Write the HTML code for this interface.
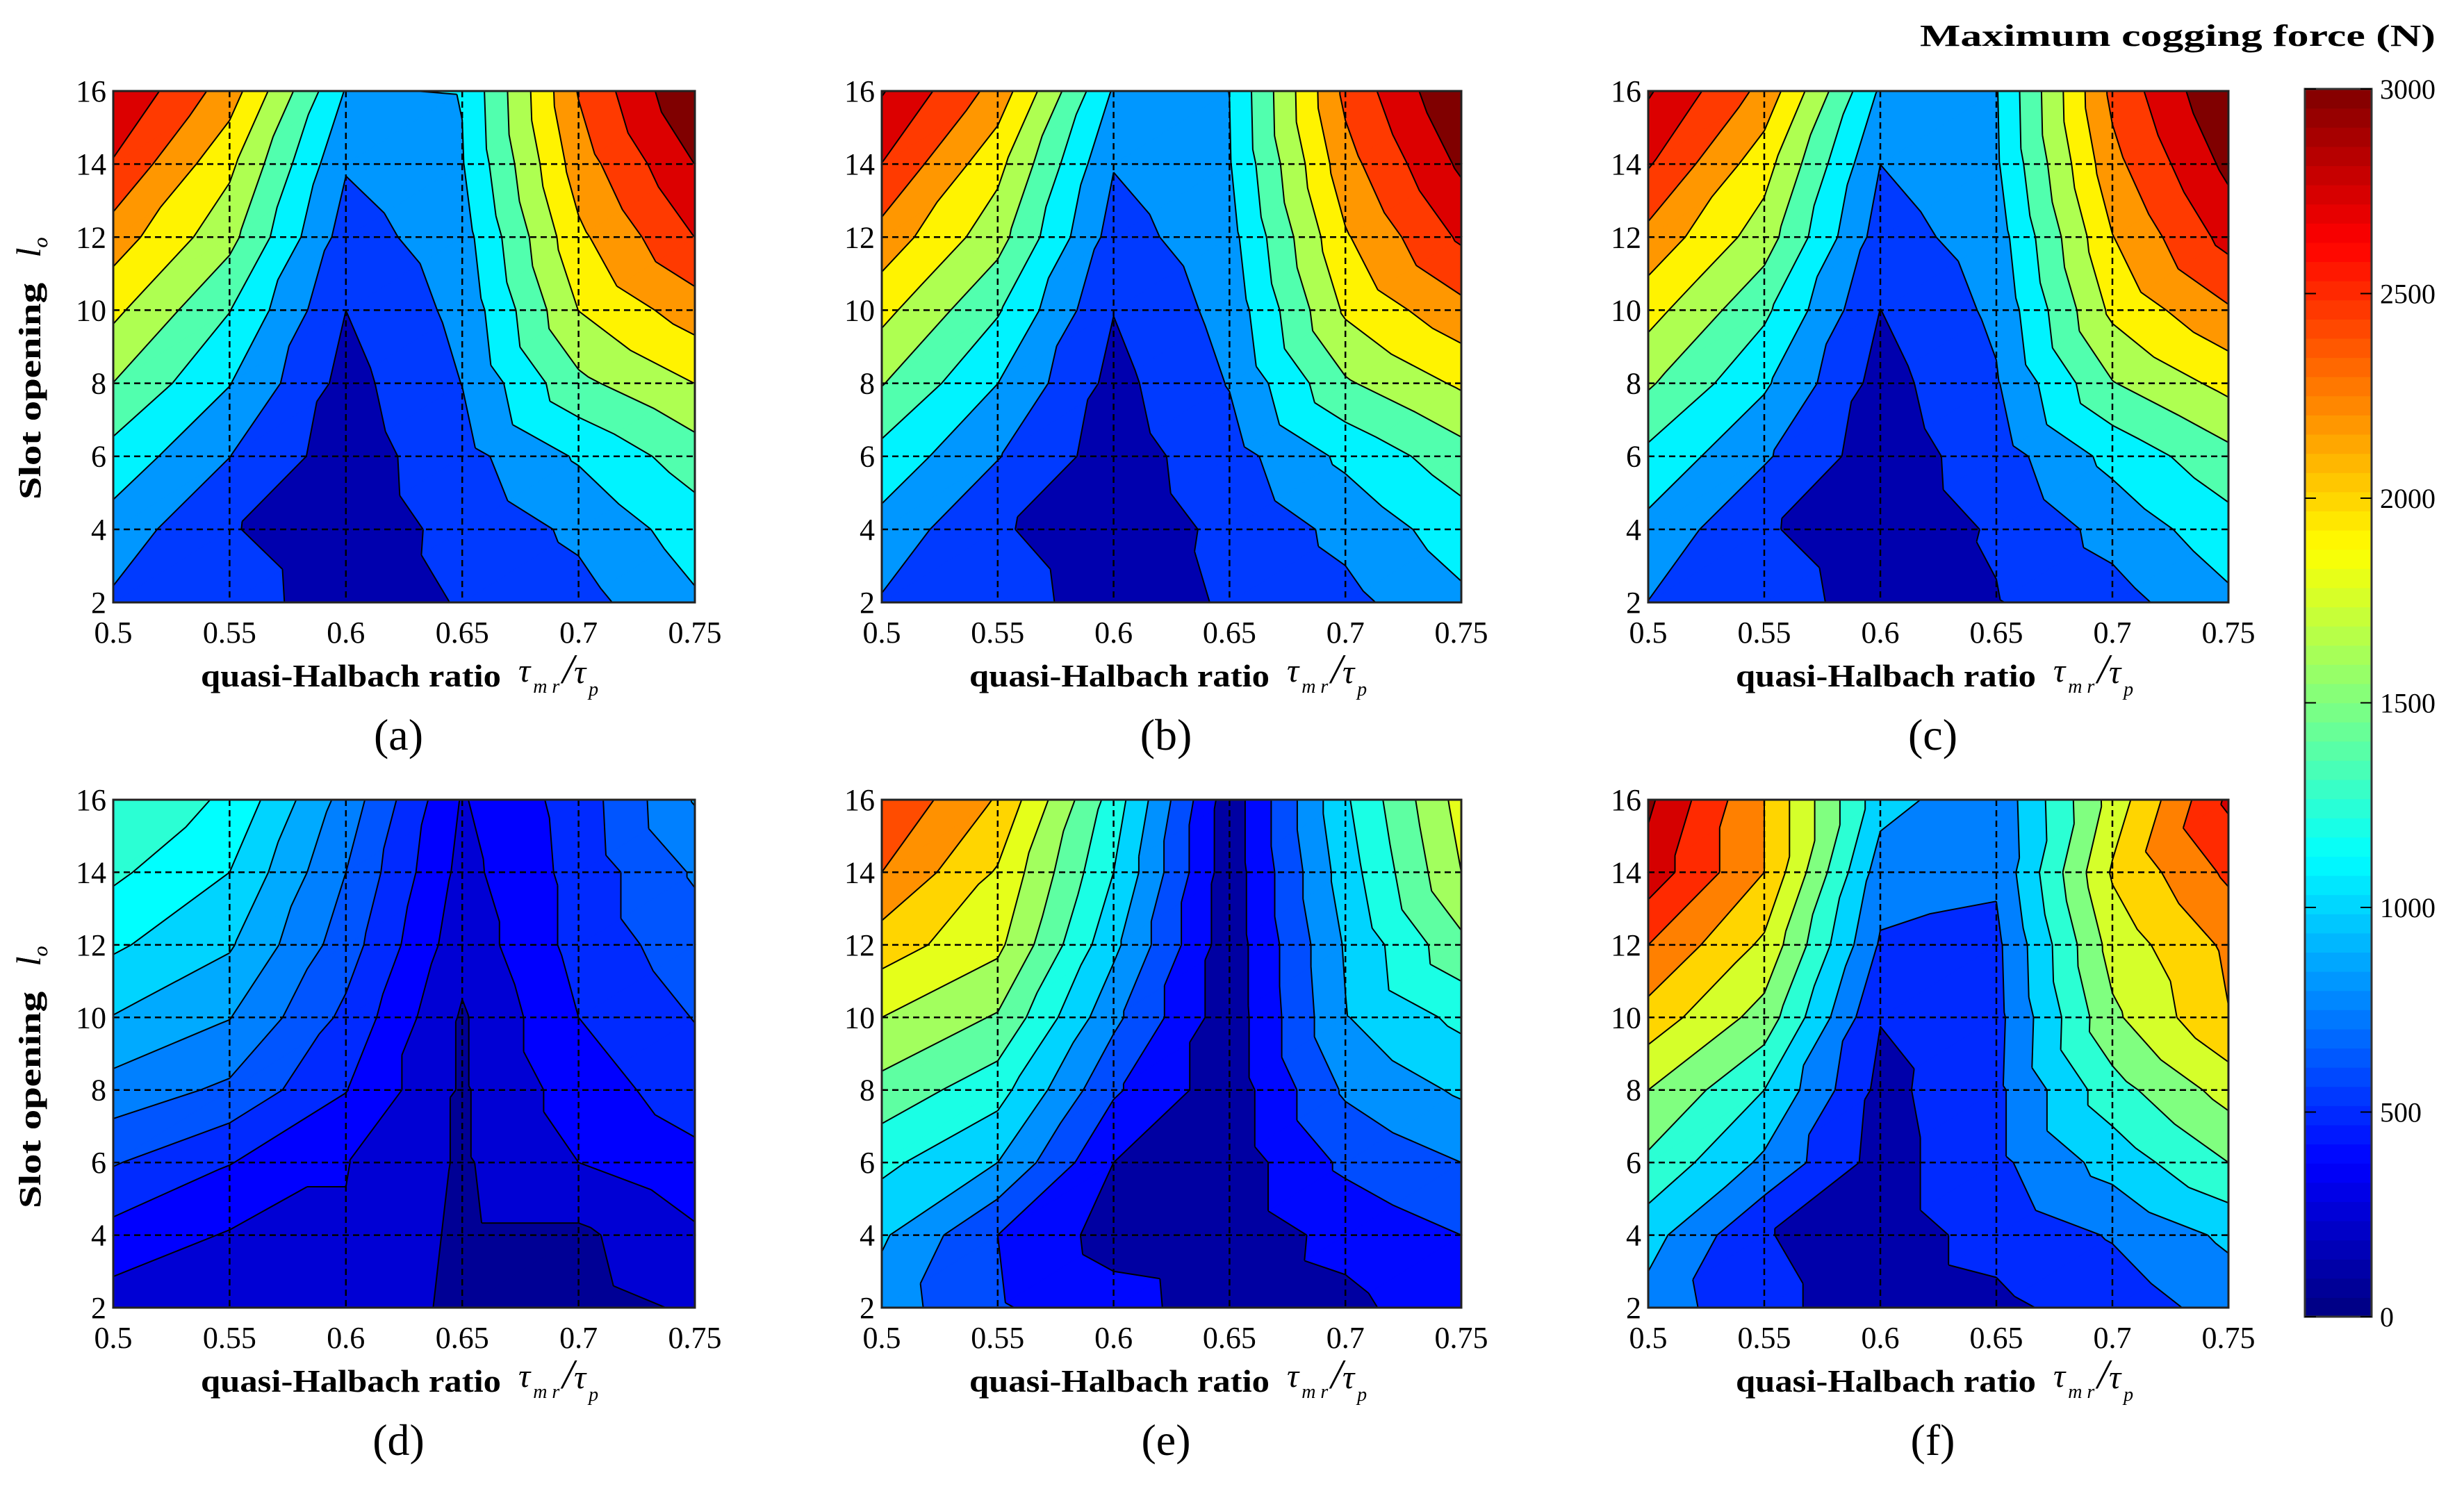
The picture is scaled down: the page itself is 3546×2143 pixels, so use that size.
<!DOCTYPE html>
<html><head><meta charset="utf-8"><style>
html,body{margin:0;padding:0;background:#fff;}
svg{display:block;}
text{font-family:"Liberation Serif",serif;fill:#000;}
</style></head><body>
<svg id="fig" width="3546" height="2143" viewBox="0 0 3546 2143" xmlns="http://www.w3.org/2000/svg">
<text x="3505" y="66" text-anchor="end" font-size="44" font-weight="bold" textLength="742" lengthAdjust="spacingAndGlyphs">Maximum cogging force (N)</text>
<g id="cbar"></g>
</svg>
<script>
const xVals = [0.5, 0.55, 0.6, 0.65, 0.7, 0.75];
const yVals = [2, 4, 6, 8, 10, 12, 14, 16];
const xTickLabels = ["0.5", "0.55", "0.6", "0.65", "0.7", "0.75"];
const yTickLabels = ["2", "4", "6", "8", "10", "12", "14", "16"];
const cbarTicks = [0, 500, 1000, 1500, 2000, 2500, 3000];
const panelLetters = ["(a)", "(b)", "(c)", "(d)", "(e)", "(f)"];
const levelSteps = [272.7, 272.7, 272.7, 125, 200, 250];
// rows y=2..16, cols x=0.5..0.75
const gridA = [
[500,400,130,290,450,780],[700,290,120,350,600,950],[990,550,130,450,850,1230],[1360,830,180,550,1300,1638],
[1700,1100,273,620,1640,2050],[2050,1450,420,700,1850,2457],[2430,1700,570,800,2050,2730],[2720,2050,800,830,2200,3000]];
const gridB = [
[520,400,140,300,470,760],[720,300,120,330,620,960],[1000,560,140,430,880,1250],[1380,820,190,560,1330,1680],
[1720,1120,280,640,1680,2100],[2080,1470,430,720,1880,2500],[2450,1720,560,800,2080,2780],[2750,2080,790,820,2250,3000]];
const gridC = [
[540,420,140,260,440,760],[740,300,110,300,640,980],[1020,580,120,410,900,1280],[1400,860,170,520,1350,1720],
[1740,1150,270,600,1700,2150],[2100,1500,420,680,1900,2550],[2480,1750,546,780,2100,2800],[2760,2100,780,800,2250,3000]];
const gridD = [
[190,190,230,90,80,140],[330,240,240,100,100,230],[510,380,255,110,250,340],[700,600,380,110,310,440],
[870,755,470,110,375,505],[1020,890,560,170,420,570],[1150,1000,625,210,420,640],[1200,1110,700,240,430,760]];
const gridE = [
[700,420,280,90,150,330],[830,400,120,80,260,400],[1050,800,200,80,440,600],[1330,1080,430,80,630,830],
[1600,1380,650,80,790,1050],[1900,1650,850,80,820,1350],[2200,1780,1000,80,900,1600],[2380,1980,1110,80,970,1680]];
const gridF = [
[650,300,150,200,350,600],[850,260,150,320,520,800],[1200,700,150,440,850,1250],[1500,1000,180,440,1150,1600],
[1900,1400,260,420,1450,1990],[2250,1700,470,440,1600,2050],[2650,2000,620,540,1780,2300],[2800,2000,850,560,1600,2550]];
const grids = [gridA, gridB, gridC, gridD, gridE, gridF];

const NS = "http://www.w3.org/2000/svg";
const svg = document.getElementById("fig");
const colX = [[163,1000],[1269,2103],[2372,3207]];
const rowY = [[131,867],[1151,1882]];
function mk(tag, attrs, parent){const e=document.createElementNS(NS,tag);for(const k in attrs)e.setAttribute(k,attrs[k]);(parent||svg).appendChild(e);return e;}
function jet(t){t=Math.max(0,Math.min(1,t));
 const r=Math.max(0,Math.min(1,Math.min(4*t-1.5,-4*t+4.5)));
 const g=Math.max(0,Math.min(1,Math.min(4*t-0.5,-4*t+3.5)));
 const b=Math.max(0,Math.min(1,Math.min(4*t+0.5,-4*t+2.5)));
 return "rgb("+Math.round(r*255)+","+Math.round(g*255)+","+Math.round(b*255)+")";}
function clip(poly, lev, keepAbove){const out=[];
 for(let i=0;i<poly.length;i++){const a=poly[i],b=poly[(i+1)%poly.length];
  const ia=keepAbove?a.v>=lev:a.v<=lev, ib=keepAbove?b.v>=lev:b.v<=lev;
  if(ia)out.push(a);
  if(ia!==ib){const t=(lev-a.v)/(b.v-a.v);out.push({x:a.x+t*(b.x-a.x),y:a.y+t*(b.y-a.y),v:lev});}}
 return out;}

for(let p=0;p<6;p++){
 const col=p%3,row=Math.floor(p/3);
 const X0=colX[col][0],X1=colX[col][1],Y0=rowY[row][0],Y1=rowY[row][1];
 const sx=x=>X0+(x-0.5)/(0.75-0.5)*(X1-X0);
 const sy=y=>Y1-(y-2)/(16-2)*(Y1-Y0);
 const grid=grids[p], step=levelSteps[p];
 const levels=[];for(let l=step;l<3000;l+=step)levels.push(l);
 const g=mk("g",{});
 
 
 const tris=[];
 for(let j=0;j<yVals.length-1;j++)for(let i=0;i<xVals.length-1;i++){
  const P=(ii,jj)=>({x:sx(xVals[ii]),y:sy(yVals[jj]),v:grid[jj][ii]+1e-3});
  const a=P(i,j),b=P(i+1,j),c=P(i+1,j+1),d=P(i,j+1);
  tris.push([a,b,c]);tris.push([a,c,d]);}
 const edges=[-1e9].concat(levels,[1e9]);
 const fg=mk("g",{},g);
 
 
 for(const tri of tris){
  for(let k=0;k<edges.length-1;k++){
   let poly=clip(tri,edges[k],true);if(poly.length<3)continue;
   poly=clip(poly,edges[k+1],false);if(poly.length<3)continue;
   const up=k<levels.length?levels[k]:3000;
   const cv=k===0?step*0.5:up;
   const col2=jet(cv/3000);
   mk("polygon",{points:poly.map(q=>q.x.toFixed(1)+","+q.y.toFixed(1)).join(" "),fill:col2,stroke:col2,"stroke-width":"1.2"},fg);}}
 let dstr="";
 for(const tri of tris)for(const L of levels){
  const pts=[];
  for(let e=0;e<3;e++){const a=tri[e],b=tri[(e+1)%3];
   if((a.v-L)*(b.v-L)<0){const t=(L-a.v)/(b.v-a.v);pts.push([a.x+t*(b.x-a.x),a.y+t*(b.y-a.y)]);}}
  if(pts.length===2)dstr+="M"+pts[0][0].toFixed(1)+","+pts[0][1].toFixed(1)+"L"+pts[1][0].toFixed(1)+","+pts[1][1].toFixed(1);}
 const cl=mk("path",{d:dstr,fill:"none",stroke:"#000","stroke-width":"2"},g);
 
 
 for(let i=1;i<xVals.length-1;i++){
  const ln=mk("line",{x1:sx(xVals[i]),x2:sx(xVals[i]),y1:Y0,y2:Y1,stroke:"#000","stroke-width":"2.5","stroke-dasharray":"9,6"},g);
  
  }
 for(let j=1;j<yVals.length-1;j++){
  const ln=mk("line",{x1:X0,x2:X1,y1:sy(yVals[j]),y2:sy(yVals[j]),stroke:"#000","stroke-width":"2.5","stroke-dasharray":"9,6"},g);
  
  }
 const fr=mk("rect",{x:X0,y:Y0,width:X1-X0,height:Y1-Y0,fill:"none",stroke:"#222","stroke-width":"3"},g);
 
 
 for(let i=0;i<xVals.length;i++){
  const t=mk("text",{x:sx(xVals[i]),y:Y1+58,"text-anchor":"middle","font-size":"44"},g);
  t.textContent=xTickLabels[i];
  
  }
 for(let j=0;j<yVals.length;j++){
  const t=mk("text",{x:X0-10,y:sy(yVals[j])+15,"text-anchor":"end","font-size":"44"},g);
  t.textContent=yTickLabels[j];
  
  }
 const cx=(X0+X1)/2;
 const xl=mk("text",{x:X0+126,y:Y1+121,"font-size":"46","font-weight":"bold",textLength:"432",lengthAdjust:"spacingAndGlyphs"},g);
 xl.textContent="quasi-Halbach ratio";
 
 
 const xs=mk("text",{x:X0+583,y:Y1+114,"font-size":"48","font-style":"italic"},g);
 xs.innerHTML='τ<tspan font-size="28" dy="16" dx="4">m r</tspan><tspan font-size="60" dy="-14" dx="4">/</tspan>τ<tspan font-size="28" dy="18" dx="4">p</tspan>';
 
 
 const lx=58, ly=Y0+432;
 const yl=mk("text",{x:lx,y:ly,"font-size":"44","font-weight":"bold","text-anchor":"middle",transform:"rotate(-90 "+lx+" "+ly+")",textLength:"312",lengthAdjust:"spacingAndGlyphs"},g);
 yl.textContent="Slot opening";
 
 
 const ly2=Y0+225;
 const ys=mk("text",{x:lx,y:ly2,"font-size":"50","font-style":"italic","text-anchor":"middle",transform:"rotate(-90 "+lx+" "+ly2+")"},g);
 ys.innerHTML='l<tspan font-size="30" dy="10">o</tspan>';
 
 
 const cap=mk("text",{x:cx-8,y:Y1+212,"font-size":"64","text-anchor":"middle"},g);
 cap.textContent=panelLetters[p];
 
 
}
// colorbar
const cb=document.getElementById("cbar");
const CX0=3317,CX1=3413,CY0=128,CY1=1895;
const cbY=v=>CY1-v/3000*(CY1-CY0);
const nSteps=64;
for(let k=0;k<nSteps;k++){
 const r=mk("rect",{x:CX0,y:cbY((k+1)*3000/nSteps),width:CX1-CX0,height:(CY1-CY0)/nSteps+0.6,fill:jet((k+0.5)/nSteps)},cb);
 
 }
const cf=mk("rect",{x:CX0,y:CY0,width:CX1-CX0,height:CY1-CY0,fill:"none",stroke:"#333","stroke-width":"3"},cb);


for(const v of cbarTicks){
 const y=cbY(v);
 mk("line",{x1:CX0,x2:CX0+16,y1:y,y2:y,stroke:"#000","stroke-width":"2"},cb);
 mk("line",{x1:CX1-16,x2:CX1,y1:y,y2:y,stroke:"#000","stroke-width":"2"},cb);
 const t=mk("text",{x:CX1+12,y:y+14,"font-size":"40"},cb);
 t.textContent=String(v);
 
 }
</script>
</body></html>
